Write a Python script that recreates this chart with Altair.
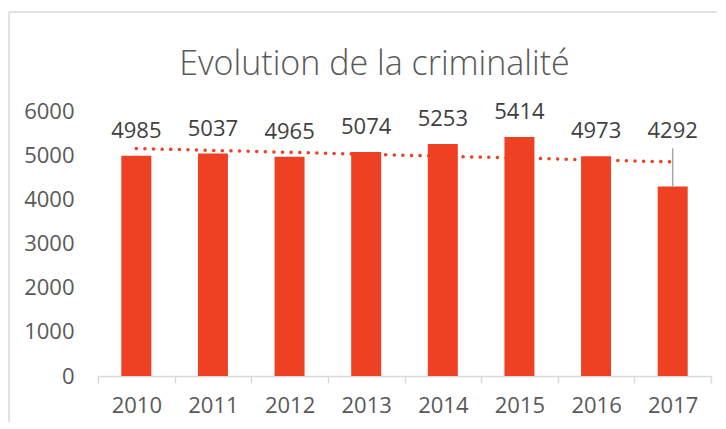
import altair as alt
import pandas as pd

years = [2010, 2011, 2012, 2013, 2014, 2015, 2016, 2017]
values = [4985, 5037, 4965, 5074, 5253, 5414, 4973, 4292]
# The 2017 label sits at the level of the 2016 label, tied to its bar by a leader line
label_levels = [4985, 5037, 4965, 5074, 5253, 5414, 4973, 4973]
has_leader = [False, False, False, False, False, False, False, True]
y_ticks = [0, 1000, 2000, 3000, 4000, 5000, 6000]
title_text = "Evolution de la criminalité"

df = pd.DataFrame({"year": years, "value": values,
                   "label_y": label_levels, "leader": has_leader})
frame_df = pd.DataFrame({"k": [0]})

RED = "#EE4123"
FONT = "Open Sans"
W, H = 613, 265

x_enc = alt.X("year:O", title=None,
              scale=alt.Scale(paddingInner=0, paddingOuter=0),
              axis=alt.Axis(labelAngle=0, tickBand="extent",
                            domainColor="#D9D9D9", tickColor="#D9D9D9",
                            domainWidth=1.5, tickWidth=1.5, tickSize=7,
                            labelFontSize=22, labelColor="#595959",
                            labelFont=FONT, labelPadding=12))
y_scale = alt.Scale(domain=[0, 6000], nice=False)
y_enc = alt.Y("value:Q", title=None, scale=y_scale,
              axis=alt.Axis(values=y_ticks, format="d", grid=False, domain=False,
                            ticks=False, labelFontSize=22,
                            labelColor="#595959", labelFont=FONT,
                            labelPadding=24))

base = alt.Chart(df)

bars = base.mark_bar(size=30, color=RED).encode(x=x_enc, y=y_enc)

trend = base.transform_regression("year", "value").mark_line(
    color=RED, strokeWidth=3.5, strokeDash=[0.1, 8.5], strokeCap="round"
).encode(x=alt.X("year:O"), y=alt.Y("value:Q"))

leader = base.transform_filter("datum.leader").mark_rule(
    color="#A6A6A6", strokeWidth=1.5, y2Offset=-8
).encode(x=alt.X("year:O"), y=alt.Y("value:Q"), y2="label_y:Q")

labels = base.mark_text(
    dy=-18, baseline="alphabetic", fontSize=22, color="#404040", font=FONT
).encode(x=alt.X("year:O"), y=alt.Y("label_y:Q"),
         text=alt.Text("value:Q", format="d"))

frame_left = alt.Chart(frame_df).mark_rule(color="#D9D9D9", strokeWidth=1.5).encode(
    x=alt.value(-89), y=alt.value(-99), y2=alt.value(311))
frame_top = alt.Chart(frame_df).mark_rule(color="#D9D9D9", strokeWidth=1.5).encode(
    x=alt.value(-89), x2=alt.value(619), y=alt.value(-99))

chart = alt.layer(bars, trend, leader, labels, frame_left, frame_top).properties(
    width=W, height=H,
    title=alt.TitleParams(title_text, fontSize=34, font=FONT, fontWeight=300,
                          color="#595959", anchor="middle", frame="group",
                          dx=-30, offset=-98, baseline="alphabetic"),
    padding={"left": 0, "top": 3, "right": 0, "bottom": 0},
).configure_view(stroke=None)

chart.save("out.html", embed_options={"renderer": "svg", "actions": False})
